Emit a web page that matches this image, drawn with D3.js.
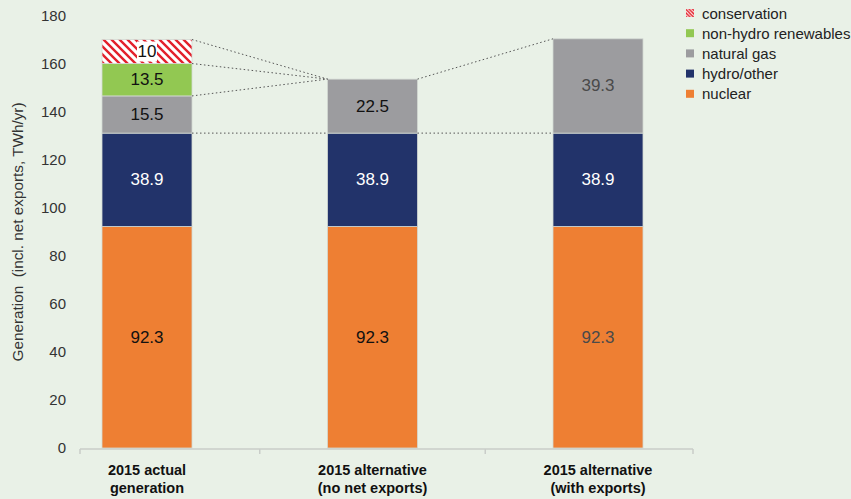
<!DOCTYPE html>
<html>
<head>
<meta charset="utf-8">
<script src="https://cdn.jsdelivr.net/npm/d3@7"></script>
<style>
  html, body { margin: 0; padding: 0; background: #e9f1e7; }
  svg { display: block; font-family: "Liberation Sans", Arial, sans-serif; }
</style>
</head>
<body>
<svg id="chart" width="851" height="499"></svg>
<script>
// Categories (each label split over two lines)
const categories = ["2015 actual generation", "2015 alternative (no net exports)", "2015 alternative (with exports)"];
const categoryLines = [["2015 actual", "generation"], ["2015 alternative", "(no net exports)"], ["2015 alternative", "(with exports)"]];

// Series values, bottom to top of each stack (TWh/yr)
const seriesNames = ["nuclear", "hydro/other", "natural gas", "non-hydro renewables", "conservation"];
const nuclear = [92.3, 92.3, 92.3];
const hydroOther = [38.9, 38.9, 38.9];
const naturalGas = [15.5, 22.5, 39.3];
const nonHydroRenewables = [13.5, 0, 0];
const conservation = [10, 0, 0];

const yTicks = [0, 20, 40, 60, 80, 100, 120, 140, 160, 180];
const yTitle = "Generation  (incl. net exports, TWh/yr)";

const colors = {
  "nuclear": "#ee7f33",
  "hydro/other": "#22336a",
  "natural gas": "#9c9c9f",
  "non-hydro renewables": "#92c852",
  "conservation": "url(#hatch)"
};
const swatchColors = Object.assign({}, colors, { "conservation": "url(#hatchSwatch)" });

// label colour per series and category
const labelColor = (key, i) => {
  if (key === "hydro/other") return "#ffffff";
  if (i === 2) return "#4a4a4a";
  return "#111111";
};

const valuesBySeries = {
  "nuclear": nuclear,
  "hydro/other": hydroOther,
  "natural gas": naturalGas,
  "non-hydro renewables": nonHydroRenewables,
  "conservation": conservation
};
const table = categories.map((c, i) => {
  const row = { category: c };
  seriesNames.forEach(s => row[s] = valuesBySeries[s][i]);
  return row;
});

const svg = d3.select("#chart");

// hatch patterns for conservation (bar and legend swatch)
const defs = svg.append("defs");
function hatch(id, size, width) {
  const pat = defs.append("pattern")
    .attr("id", id)
    .attr("patternUnits", "userSpaceOnUse")
    .attr("width", size).attr("height", size);
  pat.append("rect").attr("width", size).attr("height", size).attr("fill", "#ffffff");
  const q = size / 4;
  pat.append("path")
    .attr("d", `M${-q},${size - q} L${q},${size + q} M0,0 L${size},${size} M${size - q},${-q} L${size + q},${q}`)
    .attr("stroke", "#e3202b").attr("stroke-width", width);
}
hatch("hatch", 8, 2.4);
hatch("hatchSwatch", 3.5, 1.4);

const y = d3.scaleLinear().domain([0, 180]).range([448, 16]);
const x = d3.scalePoint().domain(categories).range([147, 598]);
const barW = 90;
const axisLeft = 80, axisRight = 693;

const stack = d3.stack().keys(seriesNames);
const layers = stack(table);

// bars
const g = svg.append("g");
layers.forEach(layer => {
  g.selectAll(null)
    .data(layer.filter(d => d[1] - d[0] > 0))
    .join("rect")
    .attr("x", d => x(d.data.category) - barW / 2)
    .attr("y", d => y(d[1]))
    .attr("width", barW)
    .attr("height", d => y(d[0]) - y(d[1]))
    .attr("fill", colors[layer.key])
    .attr("stroke", "#d3d9d3")
    .attr("stroke-width", 0.8);
});

// value labels
layers.forEach(layer => {
  layer.forEach((d, i) => {
    const v = valuesBySeries[layer.key][i];
    if (v <= 0) return;
    const cx = x(d.data.category);
    const cy = (y(d[0]) + y(d[1])) / 2;
    if (layer.key === "conservation") {
      g.append("rect")
        .attr("x", cx - 10).attr("y", cy - 10)
        .attr("width", 20).attr("height", 20)
        .attr("fill", "#ffffff");
    }
    g.append("text")
      .attr("x", cx).attr("y", cy)
      .attr("text-anchor", "middle")
      .attr("dominant-baseline", "central")
      .attr("font-size", 17)
      .attr("fill", labelColor(layer.key, i))
      .text(v);
  });
});

// dotted connectors between bars
const stackTop = i => layers[layers.length - 1][i][1];
const hydroTop = i => layers[1][i][1];
const conn = svg.append("g")
  .attr("stroke", "#555")
  .attr("stroke-width", 1)
  .attr("stroke-dasharray", "1.5,2.5")
  .attr("fill", "none");
const r0 = x(categories[0]) + barW / 2, l1 = x(categories[1]) - barW / 2;
const r1 = x(categories[1]) + barW / 2, l2 = x(categories[2]) - barW / 2;
const segs = [
  [r0, hydroTop(0), l1, hydroTop(1)],
  [r1, hydroTop(1), l2, hydroTop(2)],
  [r0, layers[2][0][1], l1, stackTop(1)],
  [r0, layers[3][0][1], l1, stackTop(1)],
  [r0, layers[4][0][1], l1, stackTop(1)],
  [r1, stackTop(1), l2, stackTop(2)]
];
segs.forEach(s => conn.append("line")
  .attr("x1", s[0]).attr("y1", y(s[1]))
  .attr("x2", s[2]).attr("y2", y(s[3])));

// y axis (labels only)
const yAxis = svg.append("g").attr("transform", "translate(66,0)")
  .call(d3.axisLeft(y).tickValues(yTicks).tickSize(0).tickPadding(0));
yAxis.select(".domain").remove();
yAxis.selectAll("text")
  .attr("font-size", 15)
  .attr("fill", "#333")
  .attr("font-family", "Liberation Sans, Arial, sans-serif");

svg.append("text")
  .attr("transform", `translate(23,${(y(0) + y(180)) / 2}) rotate(-90)`)
  .attr("text-anchor", "middle")
  .attr("font-size", 15.3)
  .attr("fill", "#333")
  .style("white-space", "pre")
  .text(yTitle);

// x axis line with tick marks at category boundaries
const xa = svg.append("g").attr("stroke", "#c9cdc9").attr("stroke-width", 1.5);
xa.append("line").attr("x1", axisLeft).attr("x2", axisRight).attr("y1", y(0) + 1).attr("y2", y(0) + 1);
const bounds = [axisLeft];
for (let i = 0; i < categories.length - 1; i++) bounds.push((x(categories[i]) + x(categories[i + 1])) / 2);
bounds.push(axisRight);
bounds.forEach(b => xa.append("line").attr("x1", b).attr("x2", b).attr("y1", y(0) + 1).attr("y2", y(0) + 6));

// category labels
categories.forEach((c, i) => {
  const t = svg.append("text")
    .attr("x", x(c)).attr("y", 475)
    .attr("text-anchor", "middle")
    .attr("font-size", 14.5)
    .attr("font-weight", "bold")
    .attr("fill", "#111");
  categoryLines[i].forEach((line, j) => {
    t.append("tspan").attr("x", x(c)).attr("dy", j === 0 ? 0 : 18).text(line);
  });
});

// legend
const legendOrder = ["conservation", "non-hydro renewables", "natural gas", "hydro/other", "nuclear"];
const lg = svg.append("g").attr("transform", "translate(686,13)");
legendOrder.forEach((k, i) => {
  const row = lg.append("g").attr("transform", `translate(0,${i * 20.2})`);
  row.append("rect").attr("x", 0).attr("y", -4).attr("width", 8).attr("height", 8).attr("fill", swatchColors[k]);
  row.append("text").attr("x", 16).attr("y", 0)
    .attr("dominant-baseline", "central")
    .attr("font-size", 15).attr("fill", "#222")
    .text(k);
});
</script>
</body>
</html>
